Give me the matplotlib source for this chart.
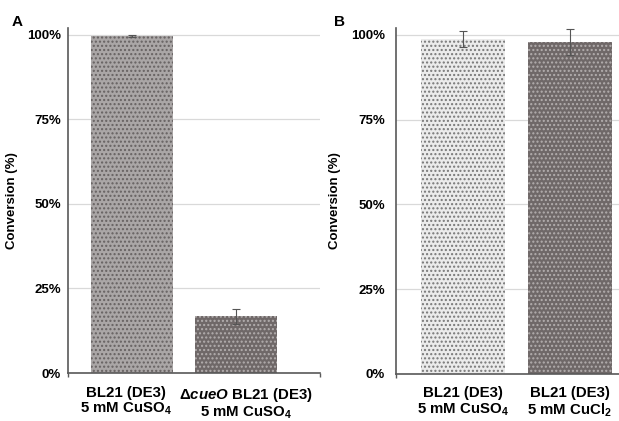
import matplotlib
matplotlib.use('Agg')
import matplotlib.pyplot as plt
import matplotlib.transforms as mtransforms
import numpy as np

# Panel A data
labels_a = ['BL21 (DE3)\n5 mM CuSO$_4$', 'Δ$\\mathit{cueO}$ BL21 (DE3)\n5 mM CuSO$_4$']
values_a = [99.6, 16.8]
errors_a = [0.2, 2.2]

# Panel B data
labels_b = ['BL21 (DE3)\n5 mM CuSO$_4$', 'BL21 (DE3)\n5 mM CuCl$_2$']
values_b = [98.8, 97.8]
errors_b = [2.3, 3.8]

yticks = [0, 25, 50, 75, 100]

#Font setup
plt.rcParams['font.family'] = ['Liberation Sans', 'DejaVu Sans']
plt.rcParams['font.weight'] = 'bold'
plt.rcParams['mathtext.fontset'] = 'custom'
plt.rcParams['mathtext.rm'] = 'Liberation Sans:bold'
plt.rcParams['mathtext.it'] = 'Liberation Sans:italic:bold'
plt.rcParams['mathtext.bf'] = 'Liberation Sans:bold'
plt.rcParams['hatch.linewidth'] = 1.0

fig = plt.figure(figsize=(6.19, 4.21), dpi=100)
ax_a = fig.add_axes([68 / 619, 1 - 373 / 421, 252 / 619, 345 / 421])
ax_b = fig.add_axes([396 / 619, 1 - 374 / 421, 266 / 619, 346 / 421])


def style_panel(ax, labels, values, errors, fills, dots, xlim, ypad):
    x = np.arange(len(values))
    for i in range(len(values)):
        ax.bar(x[i], values[i], width=0.79, color=fills[i], edgecolor=dots[i],
               linewidth=0, hatch='....', zorder=2)
    ax.errorbar(x, values, yerr=errors, fmt='none', ecolor='#555555',
                elinewidth=0.8, capsize=3, capthick=0.8, zorder=3)
    ax.set_xlim(*xlim)
    ax.set_ylim(0, 102)
    ax.set_yticks(yticks)
    ax.set_yticklabels(['{}%'.format(t) for t in yticks])
    ax.yaxis.grid(True, color='#d9d9d9', linewidth=0.9, zorder=0)
    ax.set_axisbelow(True)
    ax.set_xticks(x)
    ax.set_xticklabels(labels, fontsize=10.8, linespacing=1.1)
    ax.tick_params(axis='x', length=0, pad=9)
    ax.tick_params(axis='y', length=0, pad=ypad, labelsize=9.5)
    ax.set_xticks([xlim[0], xlim[1]], minor=True)
    ax.tick_params(axis='x', which='minor', length=3, color='#595959', width=1)
    for side in ['top', 'right']:
        ax.spines[side].set_visible(False)
    for side in ['left', 'bottom']:
        ax.spines[side].set_color('#595959')
        ax.spines[side].set_linewidth(1.2)
    ax.set_ylabel('Conversion (%)', fontsize=9.5, fontweight='bold')


style_panel(ax_a, labels_a, values_a, errors_a,
            ['#aaa6a6', '#6f6868'], ['#666161', '#b3aeae'],
            (-0.615, 1.81), 5)
style_panel(ax_b, labels_b, values_b, errors_b,
            ['#ebebeb', '#6f6868'], ['#777777', '#b3aeae'],
            (-0.625, 1.86), 8)

#Spread the panel A category labels apart a little, like the original
for lab, dx in zip(ax_a.get_xticklabels(), [-6, 10]):
    lab.set_transform(lab.get_transform() +
                      mtransforms.ScaledTranslation(dx / 100, 0, fig.dpi_scale_trans))

ax_a.yaxis.set_label_coords(-0.2, 0.5)
ax_b.yaxis.set_label_coords(-0.205, 0.5)

fig.text(17 / 619, 1 - 22 / 421, 'A', fontsize=11, fontweight='bold', ha='center', va='center')
fig.text(340 / 619, 1 - 22 / 421, 'B', fontsize=11, fontweight='bold', ha='center', va='center')

plt.savefig('out.png', dpi=100)
